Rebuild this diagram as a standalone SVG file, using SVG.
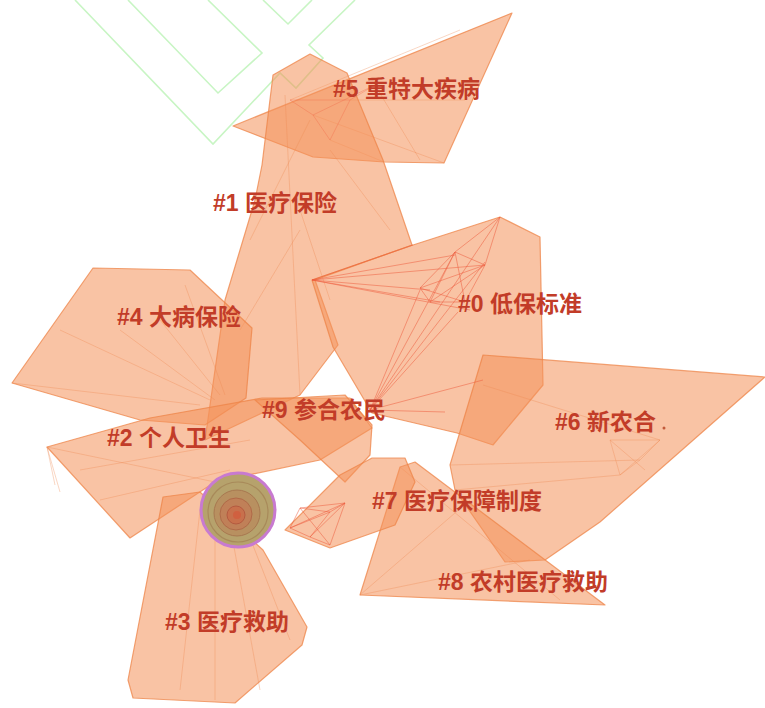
<svg xmlns="http://www.w3.org/2000/svg" width="765" height="708" viewBox="0 0 765 708">
<style>
.hull{fill:#f4915a;fill-opacity:0.55;stroke:#ee8448;stroke-opacity:0.75;stroke-width:1.2;stroke-linejoin:round}
.fan{stroke:#ef8a52;stroke-opacity:0.35;stroke-width:1;fill:none}
.link{stroke:#ee5a3c;stroke-opacity:0.5;stroke-width:1;fill:none}
.green{stroke:#c8f5c4;stroke-width:1.6;fill:none}
.lbl{font-family:"Liberation Sans","Noto Sans CJK SC",sans-serif;font-weight:bold;font-size:23px;fill:#c23c28}
</style>
<rect width="765" height="708" fill="#ffffff"/>
<g id="green-outline">
<polyline class="green" points="75,0 213,144 280,73 296,88 323,58 309,45 355,0"/>
<polyline class="green" points="128,0 218,93 262,53 208,0"/>
<polyline class="green" points="263,0 288,24 312,0"/>
</g>
<g id="cluster-5">
<polygon class="hull" points="233,126 512,13 444,163 384,162 313,157"/>
<path class="fan" d="M290,100 L460,30 M313,115 L444,163 M350,100 L465,100 M375,85 L420,160 M330,140 L384,162"/>
</g>
<g id="cluster-1">
<polygon class="hull" points="273,75 310,54 347,73 383,160 412,245 315,280 338,345 300,395 205,440 225,300 255,200 262,165"/>
<path class="fan" d="M285,95 L300,395 M310,120 L250,240 M330,150 L390,230 M300,230 L240,330 M300,210 L330,300"/>
</g>
<g id="cluster-4">
<polygon class="hull" points="12,383 93,268 190,270 252,328 246,398 205,425 140,420"/>
<path class="fan" d="M12,383 L200,405 M60,330 L210,400 M120,330 L215,400 M160,320 L220,395 M185,285 L225,395"/>
</g>
<g id="cluster-0">
<polygon class="hull" points="312,280 413,245 500,217 540,237 543,385 493,445 457,433 372,413 333,347"/>
</g>
<g id="cluster-6">
<polygon class="hull" points="483,355 765,377 600,522 545,560 505,562 455,490 450,465"/>
<path class="fan" d="M450,465 L640,460 M483,385 L660,440 M455,490 L620,475 M610,440 L660,440 L640,460 L620,475 L610,440 M610,440 L645,470 M660,440 L620,475"/>
<circle cx="664" cy="428" r="1.5" fill="#c25a3a"/>
</g>
<g id="cluster-2">
<polygon class="hull" points="47,447 150,418 262,398 350,398 372,428 320,460 215,482 130,538"/>
<path class="fan" d="M47,447 L215,482 M80,470 L250,440 M100,500 L230,470 M47,447 L55,485 M47,447 L60,492"/>
</g>
<g id="cluster-9">
<polygon class="hull" points="255,400 345,395 372,425 370,455 345,482 300,440"/>
</g>
<g id="cluster-3">
<polygon class="hull" points="163,497 200,492 263,550 307,627 302,645 235,703 133,698 128,680"/>
<path class="fan" d="M200,510 L180,690 M215,520 L215,700 M230,525 L260,690 M245,525 L290,640"/>
</g>
<g id="cluster-8">
<polygon class="hull" points="360,595 400,467 415,462 605,605"/>
<path class="fan" d="M360,595 L530,560 M360,595 L470,500 M400,467 L560,600"/>
</g>
<g id="cluster-7">
<polygon class="hull" points="285,530 340,475 372,458 405,458 415,482 395,525 330,548"/>
</g>
<g id="connectors">
<path class="link" d="M312,280 L455,255 M312,280 L485,265 M312,280 L430,290 M312,280 L470,310 M312,280 L440,302 M312,280 L413,245"/>
<path class="link" d="M370,410 L500,217 M370,410 L455,252 M370,410 L420,290 M370,410 L458,312 M370,410 L485,262 M370,410 L445,412 M370,410 L483,380"/>
<path class="link" d="M420,288 L455,252 L485,265 L465,302 L430,302 Z M420,288 L485,265 M455,252 L465,302 M430,302 L485,265 M420,288 L465,302 M455,252 L430,302 M500,217 L455,252 M500,217 L485,265"/>
<path class="link" d="M290,528 L300,508 L330,512 L345,503 L330,545 L310,537 Z M290,528 L345,503 M300,508 L330,545 M330,512 L310,537 M290,528 L330,512 M300,508 L345,503 M310,537 L345,503"/>
<path class="link" style="stroke-opacity:0.3" d="M290,100 L313,115 L330,140 M290,100 L350,100 L375,85 M313,115 L375,85 M330,140 L350,100"/>
</g>
<g id="hub">
<circle cx="238" cy="510" r="37" fill="#b6a26c" stroke="#c87ad0" stroke-width="3"/>
<circle cx="238" cy="512" r="30" fill="none" stroke="#a88a5a" stroke-width="1.2"/>
<circle cx="237" cy="513" r="23" fill="#b89060" stroke="#a87850" stroke-width="1"/>
<circle cx="236" cy="514" r="16" fill="#c08058" stroke="#b06a48" stroke-width="1"/>
<circle cx="236" cy="515" r="9" fill="#c8704c" stroke="#b45a40" stroke-width="1"/>
<circle cx="237" cy="515" r="4" fill="#d06040"/>
</g>
<g id="labels">
<text class="lbl" x="333" y="97">#5 重特大疾病</text>
<text class="lbl" x="213" y="211">#1 医疗保险</text>
<text class="lbl" x="458" y="312">#0 低保标准</text>
<text class="lbl" x="117" y="325">#4 大病保险</text>
<text class="lbl" x="262" y="418">#9 参合农民</text>
<text class="lbl" x="107" y="446">#2 个人卫生</text>
<text class="lbl" x="555" y="430">#6 新农合</text>
<text class="lbl" x="372" y="509">#7 医疗保障制度</text>
<text class="lbl" x="438" y="590">#8 农村医疗救助</text>
<text class="lbl" x="165" y="630">#3 医疗救助</text>
</g>
</svg>
